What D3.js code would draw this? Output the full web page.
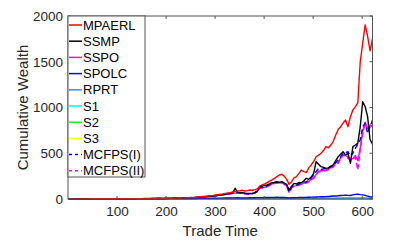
<!DOCTYPE html>
<html><head><meta charset="utf-8">
<script src="https://cdn.jsdelivr.net/npm/d3@7"></script>
<style>
html,body{margin:0;padding:0;background:#fff;}
svg{display:block;font-family:"Liberation Sans",Arial,Helvetica,sans-serif;}
</style></head>
<body>
<svg id="chart" width="399" height="243"></svg>
<script>
// ---------- data ----------
const days = d3.range(1, 622, 5);        // 125 samples
const daysCoarse = d3.range(1, 622, 20); // 32 samples

const MPAERL = [
 1,1,1.1,1.2,1.3,1.4,1.5,1.5,1.6,1.8,
 2,2.1,2,2.2,2.4,2.5,2.6,2.5,2.7,3,
 3.2,3.1,3.4,3.6,3.5,3.8,4,4.2,4.5,4.3,
 4.6,5,5.3,5.1,5.6,6,6.4,6.2,6.8,7.2,
 7.5,8,8.6,9,9.8,10.5,11,12,13.5,15,
 16,17,19,21,24,27,30,33,37,40,
 44,48,52,56,62,66,70,76,82,86,
 90,95,88,92,98,96,102,110,140,155,
 165,178,195,210,226,245,262,270,250,215,
 160,190,230,245,280,317,300,290,340,372,
 410,462,480,500,530,572,560,590,630,700,
 760,790,830,863,790,900,973,1009,1050,1500,
 1702,1902,1780,1620,1750];
const SSMP = [
 1,1,1.1,1.1,1.2,1.3,1.3,1.4,1.5,1.6,
 1.8,1.9,1.8,2,2.1,2.2,2.3,2.2,2.4,2.6,
 2.8,2.7,3,3.1,3,3.3,3.5,3.6,3.9,3.7,
 4,4.3,4.6,4.4,4.8,5.2,5.5,5.3,5.8,6.2,
 6.5,7,7.4,7.8,8.4,9,9.5,10.5,11.5,13,
 14,15,16.5,18,21,23,26,29,32,35,
 38,42,46,50,55,58,64,69,117,72,
 70,68,64,62,60,62,66,80,135,140,
 150,153,165,178,182,189,185,189,175,160,
 98,140,171,165,180,178,200,226,215,240,
 281,408,380,353,345,335,340,360,372,420,
 462,490,517,481,500,390,572,590,609,790,
 1063,1010,900,650,600];
const SSPO = [
 1,1,1.1,1.1,1.2,1.2,1.3,1.4,1.4,1.5,
 1.7,1.8,1.7,1.9,2,2.1,2.2,2.1,2.3,2.5,
 2.6,2.6,2.8,2.9,2.9,3.1,3.3,3.4,3.7,3.5,
 3.8,4.1,4.4,4.2,4.6,4.9,5.2,5,5.5,5.9,
 6.2,6.6,7,7.4,8,8.5,9,10,11,12.5,
 13.5,14.5,16,17.5,20,22,25,28,31,33,
 35,39,43,47,51,54,58,62,64,66,
 63,61,59,57,56,58,66,92,118,124,
 128,138,150,165,172,178,177,179,165,143,
 78,124,143,146,156,163,174,180,195,215,
 232,268,305,308,312,318,328,342,356,395,
 400,448,488,478,455,440,440,475,420,560,
 740,840,770,810,800];
const SPOLC = [
 1,1,1,1,1.1,1.1,1.2,1.2,1.2,1.3,
 1.3,1.4,1.4,1.5,1.5,1.6,1.6,1.7,1.7,1.8,
 1.8,1.9,2,2,2.1,2.2,2.2,2.3,2.4,2.5,
 2.5,2.6,2.7,2.8,2.9,3,3.1,3.2,3.3,3.4,
 3.5,3.6,3.8,4,4.2,4.4,4.6,4.8,5,5.2,
 5.5,5.8,6,6.3,6.6,7,7.3,7.6,8,8.4,
 8.8,9.2,9.6,10,10.5,11,11.5,12,12.5,13,
 12,11.5,12,12.5,13,13.5,14,14.5,15,15.5,
 16,16.5,17,17.5,18,18.5,18,17,16,14,
 12,13,14,15,16,16.5,17,18,19,20,
 21,22,23,24,25,26,28,30,32,33,
 35,38,40,42,40,38,45,50,52,48,
 45,40,32,25,22];
const MCFPS_I = [
 1,1,1.05,1.1,1.15,1.25,1.25,1.35,1.45,1.5,
 1.7,1.8,1.7,1.9,2,2.1,2.2,2.1,2.3,2.5,
 2.7,2.6,2.9,3,2.9,3.2,3.4,3.5,3.7,3.6,
 3.9,4.1,4.4,4.2,4.6,5,5.3,5.1,5.6,6,
 6.3,6.8,7.2,7.6,8.2,8.8,9.2,10.2,11.2,12.6,
 13.6,14.6,16,17.5,20.5,22.5,25.5,28.5,31,34,
 36,40,44,48,52,55,60,64,66,68,
 65,62,60,58,57,60,70,100,125,130,
 135,145,158,172,180,186,183,186,170,150,
 80,130,150,150,165,170,185,189,200,230,
 262,300,335,320,330,335,340,353,365,400,
 426,460,500,505,517,470,500,554,600,645,
 790,827,718,790,863];
const MCFPS_II = [
 1,1,1,1.05,1.1,1.2,1.2,1.3,1.4,1.45,
 1.6,1.7,1.65,1.8,1.9,2,2.1,2,2.2,2.4,
 2.5,2.5,2.7,2.8,2.8,3,3.2,3.3,3.5,3.4,
 3.7,3.9,4.2,4,4.4,4.7,5,4.8,5.3,5.7,
 6,6.4,6.8,7.2,7.7,8.2,8.7,9.6,10.6,12,
 13,14,15.5,17,19.5,21.5,24.5,27,30,32,
 34,38,42,46,50,53,57,61,63,65,
 62,60,58,56,55,57,64,90,115,120,
 125,135,148,162,170,176,175,176,162,140,
 75,120,140,142,153,160,170,175,190,210,
 226,260,298,300,305,310,320,335,350,390,
 390,440,481,470,445,430,426,460,317,536,
 718,827,760,800,790];
const RPRT = [
 1,1.1,1.2,1.3,1.5,1.6,1.8,2,2.2,2.5,
 2.8,3,3.3,3.6,4,4.5,5,5.5,6,6.5,
 7,6.5,7,7.5,8,8.5,9,10,11,12,
 11,10];
const S1 = [
 1,1.05,1.1,1.1,1.2,1.25,1.3,1.3,1.4,1.45,
 1.5,1.55,1.6,1.7,1.75,1.8,1.9,2,2.1,2.2,
 2.3,2.2,2.3,2.4,2.5,2.6,2.7,2.8,3,3.1,
 3,2.9];
const S2 = [
 1,0.98,0.96,0.95,0.95,0.94,0.92,0.9,0.9,0.88,
 0.87,0.86,0.85,0.84,0.83,0.82,0.8,0.8,0.79,0.78,
 0.77,0.76,0.75,0.74,0.73,0.72,0.71,0.7,0.69,0.68,
 0.67,0.66];
const S3 = [
 1,1,1,1.02,1.02,1.03,1.04,1.05,1.05,1.06,
 1.07,1.08,1.09,1.1,1.1,1.12,1.13,1.14,1.15,1.16,
 1.18,1.2,1.2,1.22,1.24,1.25,1.27,1.28,1.3,1.3,
 1.32,1.33];

const xTicks = [100, 200, 300, 400, 500, 600];
const yTicks = [0, 500, 1000, 1500, 2000];
const xLabel = "Trade Time";
const yLabel = "Cumulative Wealth";

const series = [
  {name:"MPAERL",     x:days,       y:MPAERL,   color:"#ff0000", dash:null},
  {name:"SSMP",       x:days,       y:SSMP,     color:"#000000", dash:null},
  {name:"SSPO",       x:days,       y:SSPO,     color:"#ff00ff", dash:null},
  {name:"SPOLC",      x:days,       y:SPOLC,    color:"#0000ff", dash:null},
  {name:"RPRT",       x:daysCoarse, y:RPRT,     color:"#3a8fd0", dash:null},
  {name:"S1",         x:daysCoarse, y:S1,       color:"#00ffff", dash:null},
  {name:"S2",         x:daysCoarse, y:S2,       color:"#22ee22", dash:null},
  {name:"S3",         x:daysCoarse, y:S3,       color:"#ffff00", dash:null},
  {name:"MCFPS(I)",   x:days,       y:MCFPS_I,  color:"#0000ff", dash:"5,3"},
  {name:"MCFPS(II)",  x:days,       y:MCFPS_II, color:"#ff00ff", dash:"5,3"}
];

// ---------- layout ----------
const svg = d3.select("#chart");
const L = 68, R = 372.5, T = 16, B = 199;
const x = d3.scaleLinear().domain([0, 621]).range([L, R]);
const y = d3.scaleLinear().domain([0, 2000]).range([B, T]);
const axisColor = "#555";
const textColor = "#262626";

// lines
const line = d3.line().x(d => x(d[0])).y(d => y(d[1]));
const drawOrder = [7,6,5,4,3,2,9,8,1,0];
const gLines = svg.append("g");
drawOrder.forEach(i => {
  const s = series[i];
  gLines.append("path")
    .datum(s.x.map((t, k) => [t, s.y[k]]))
    .attr("d", line)
    .attr("fill", "none")
    .attr("stroke", s.color)
    .attr("stroke-width", 1.4)
    .attr("stroke-linejoin", "round")
    .attr("stroke-dasharray", s.dash);
});

// axes
const xAxis = d3.axisBottom(x).tickValues(xTicks).tickFormat(d3.format("d")).tickSize(0).tickPadding(7);
const yAxis = d3.axisLeft(y).tickValues(yTicks).tickFormat(d3.format("d")).tickSize(0).tickPadding(5);
const gx = svg.append("g").attr("transform", `translate(0,${B})`).call(xAxis);
const gy = svg.append("g").attr("transform", `translate(${L},0)`).call(yAxis);
[gx, gy].forEach(g => {
  g.select(".domain").remove();
  g.selectAll("text").attr("fill", textColor).style("font-size", "13.5px")
    .style("font-family", "'Liberation Sans',Arial,sans-serif");
});

// inward tick marks on all four sides
const tk = svg.append("g").attr("stroke", axisColor).attr("stroke-width", 1);
xTicks.forEach(v => {
  tk.append("line").attr("x1", x(v)).attr("x2", x(v)).attr("y1", B).attr("y2", B - 3);
  tk.append("line").attr("x1", x(v)).attr("x2", x(v)).attr("y1", T).attr("y2", T + 3);
});
yTicks.forEach(v => {
  tk.append("line").attr("x1", L).attr("x2", L + 3).attr("y1", y(v)).attr("y2", y(v));
  tk.append("line").attr("x1", R).attr("x2", R - 3).attr("y1", y(v)).attr("y2", y(v));
});

// box
svg.append("rect").attr("x", L).attr("y", T).attr("width", R - L).attr("height", B - T)
  .attr("fill", "none").attr("stroke", axisColor).attr("stroke-width", 1);

// axis titles
svg.append("text").attr("x", (L + R) / 2).attr("y", 236).attr("text-anchor", "middle")
  .attr("fill", textColor).style("font-size", "15px").text(xLabel);
svg.append("text").attr("transform", `translate(28,${(T + B) / 2}) rotate(-90)`)
  .attr("text-anchor", "middle").attr("fill", textColor).style("font-size", "15px").text(yLabel);

// legend
const lg = svg.append("g");
lg.append("rect").attr("x", L).attr("y", T).attr("width", 77).attr("height", 161)
  .attr("fill", "#fff").attr("stroke", axisColor).attr("stroke-width", 1);
series.forEach((s, i) => {
  const cy = 25 + i * 16.2;
  lg.append("line").attr("x1", 69).attr("x2", 82).attr("y1", cy).attr("y2", cy)
    .attr("stroke", s.color).attr("stroke-width", 1.5).attr("stroke-dasharray", s.dash ? "3,3" : null);
  lg.append("text").attr("x", 83).attr("y", cy).attr("dy", "0.36em")
    .attr("fill", "#000").style("font-size", "13px").text(s.name);
});
</script>
</body></html>
